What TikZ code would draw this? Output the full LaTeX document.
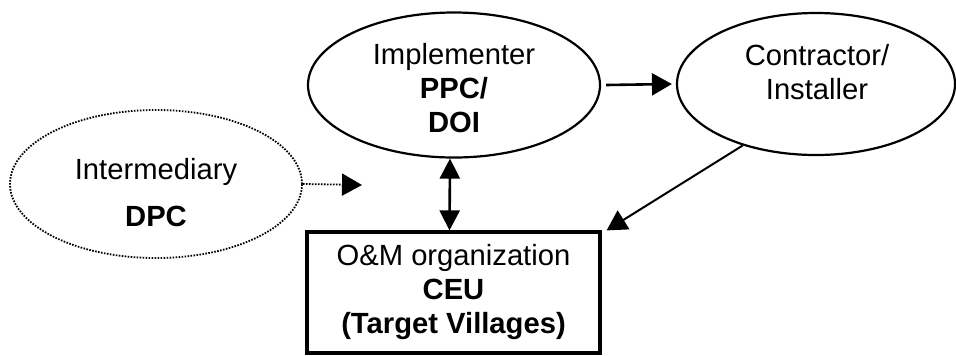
\documentclass[tikz,border=0pt]{standalone}
\usepackage{fontspec}
\setmainfont{Liberation Sans}
\usetikzlibrary{shapes.geometric,arrows.meta}
\begin{document}
\begin{tikzpicture}[x=0.5pt,y=-0.5pt,
  every node/.style={font=\fontsize{14.6}{17}\selectfont},
  party/.style={ellipse,draw,line width=1.1pt,inner sep=0pt},
  dots/.style={line width=0.9pt,dash pattern=on 0.8pt off 0.7pt},
  tip/.style={Triangle[length=10pt,width=11pt]},
  arr/.style={-{Triangle[length=10pt,width=11pt]},line width=1.3pt}]
  \useasboundingbox (0,0) rectangle (956,355);
  % parties
  \node[party,dots,minimum width=146pt,minimum height=74pt] (int) at (156,184) {};
  \node[party,minimum width=146pt,minimum height=72.5pt] (imp) at (454,85) {};
  \node[party,minimum width=139pt,minimum height=71pt] (ctr) at (816,84) {};
  \node[draw,line width=1.6pt,minimum width=146.5pt,minimum height=60.5pt,
        align=center] (om) at (453.5,292.5)
        {O\&M organization\\\textbf{CEU}\\\textbf{(Target Villages)}};
  % labels
  \node[align=center] (intlbl) at (156,193) {Intermediary\\[6.5pt]\textbf{DPC}};
  \node[align=center] (implbl) at (454,88) {Implementer\\\textbf{PPC/}\\\textbf{DOI}};
  \node[align=center] (ctrlbl) at (817,72) {Contractor/\\Installer};
  % connectors
  \coordinate (dpcend) at (362,185);
  \draw[arr,dots] (int.east) -- (dpcend);
  \draw[arr] ([xshift=2.5pt]imp.east) -- ([xshift=-2pt]ctr.west);
  \draw[{Triangle[length=10pt,width=10pt]}-{Triangle[length=10pt,width=10pt]},line width=1.3pt]
    ([xshift=-2pt]imp.south) -- ([xshift=-2pt]om.north);
  \draw[arr,line width=1pt] (ctr.220) -- ([xshift=2.5pt]om.north east);
\end{tikzpicture}
\end{document}
